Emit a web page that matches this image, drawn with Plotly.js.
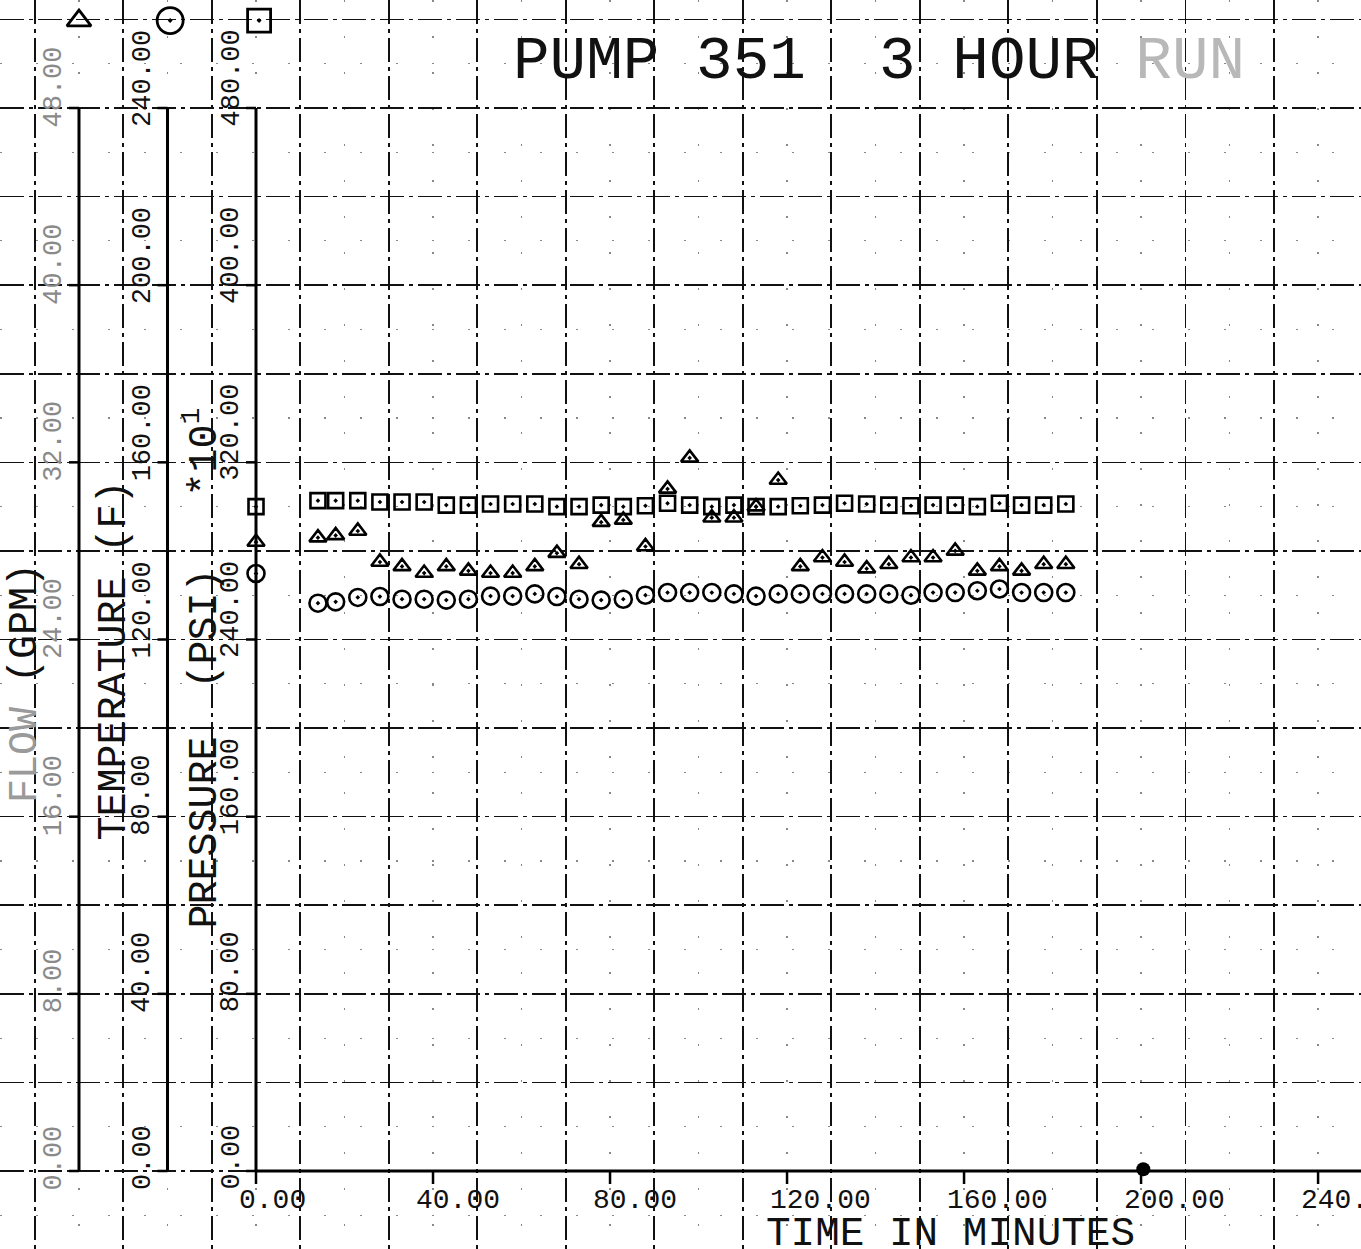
<!DOCTYPE html>
<html>
<head>
<meta charset="utf-8">
<script src="https://cdn.plot.ly/plotly-3.0.1.min.js"></script>
<style>
html,body{margin:0;padding:0;background:#fff;}
#chart{width:1361px;height:1249px;}
</style>
</head>
<body>
<div id="chart"></div>
<script>
// ---- data ----
const timeMin = [0, 14, 18, 23, 28, 33, 38, 43, 48, 53, 58, 63, 68, 73, 78, 83, 88, 93, 98,
  103, 108, 113, 118, 123, 128, 133, 138, 143, 148, 153, 158, 163, 168, 173, 178, 183];
const pressurePsi10 = [300.0, 302.7, 302.7, 302.7, 302.1, 302.1, 302.1, 300.7, 300.7, 301.2, 301.2, 301.2,
  300.0, 300.0, 300.7, 300.0, 300.4, 301.5, 300.7, 300.0, 300.7, 300.0, 300.0, 300.4,
  300.7, 301.5, 301.2, 300.7, 300.4, 300.7, 300.7, 300.0, 301.5, 300.7, 300.7, 301.2];
const temperatureF = [134.9, 128.2, 128.5, 129.5, 129.7, 129.1, 129.1, 128.9, 129.1, 129.8, 129.8, 130.3,
  129.7, 129.1, 128.9, 129.1, 130.0, 130.6, 130.6, 130.6, 130.3, 129.8, 130.3, 130.3,
  130.3, 130.3, 130.3, 130.3, 130.0, 130.6, 130.6, 131.0, 131.4, 130.6, 130.6, 130.6];
const flowGpm = [28.4, 28.6, 28.7, 28.9, 27.5, 27.3, 27.0, 27.3, 27.1, 27.0, 27.0, 27.3,
  27.9, 27.4, 29.3, 29.4, 28.2, 30.8, 32.2, 29.5, 29.5, 30.0, 31.2, 27.3,
  27.7, 27.5, 27.2, 27.4, 27.7, 27.7, 28.0, 27.1, 27.3, 27.1, 27.4, 27.4];
const strayTime = [200.5];
const strayPressure = [0.8];

const timeTicks = [0, 40, 80, 120, 160, 200, 240];
const pressureTicks = [0, 80, 160, 240, 320, 400, 480];
const temperatureTicks = [0, 40, 80, 120, 160, 200, 240];
const flowTicks = [0, 8, 16, 24, 32, 40, 48];

const chartTitle = 'PUMP 351\u00a0\u00a03 HOUR <span style="color:#b8b8b8">RUN</span>';
const xTitle = 'TIME IN MINUTES';
const flowTitle = '<span style="color:#9a9a9a">FLOW</span> (GPM)';
const tempTitle = 'TEMPERATURE (F)';
const pressTitle = 'PRESSURE\u00a0\u00a0(PSI)\u00a0\u00a0\u00a0*10<sup>1</sup>';

// ---- layout geometry ----
const W = 1361, H = 1249;
const X_RANGE = [-57.85, 249.7];
const P_RANGE = [-35.22, 528.77];
const T_RANGE = [P_RANGE[0] / 2, P_RANGE[1] / 2];
const F_RANGE = [P_RANGE[0] / 10, P_RANGE[1] / 10];
const AX_FLOW = -40, AX_TEMP = -20, AX_PRESS = 0;
const KEY_LEVEL = 519.5; // legend keys at top of axes (pressure units)

const FONT = 'Liberation Mono, DejaVu Sans Mono, monospace';
const fmt = v => v.toFixed(2);

const annotations = [];
const shapes = [];

function yAxisDecor(pos, ticks, yref, top, labelColor, title, titleBottomPx) {
  shapes.push({type: 'line', xref: 'x', yref: yref, x0: pos, x1: pos, y0: 0, y1: top,
    line: {color: '#000', width: 3}});
  ticks.forEach(v => {
    shapes.push({type: 'line', xref: 'x', xsizemode: 'pixel', xanchor: pos, x0: -10, x1: 0,
      yref: yref, y0: v, y1: v, line: {color: '#000', width: 2.5}});
    annotations.push({xref: 'x', yref: yref, x: pos, y: v, text: fmt(v), textangle: -90,
      xanchor: 'center', yanchor: 'bottom', xshift: -25, yshift: -21, showarrow: false,
      font: {family: FONT, size: 27, color: labelColor}});
  });
  annotations.push({xref: 'x', yref: 'paper', x: pos, y: 1 - titleBottomPx / H, text: title,
    textangle: -90, xanchor: 'center', yanchor: 'bottom', xshift: -54, showarrow: false,
    font: {family: FONT, size: 40, color: '#111'}});
}
yAxisDecor(AX_FLOW, flowTicks, 'y3', 48, '#8a8a8a', flowTitle, 805);
yAxisDecor(AX_TEMP, temperatureTicks, 'y2', 240, '#111', tempTitle, 843);
yAxisDecor(AX_PRESS, pressureTicks, 'y', 480, '#111', pressTitle, 931);

// x axis line, ticks, labels
shapes.push({type: 'line', xref: 'x', yref: 'y', x0: 0, x1: X_RANGE[1], y0: 0, y1: 0,
  line: {color: '#000', width: 3}});
timeTicks.forEach(v => {
  shapes.push({type: 'line', xref: 'x', x0: v, x1: v, yref: 'y', ysizemode: 'pixel', yanchor: 0,
    y0: -13, y1: 0, line: {color: '#000', width: 2.5}});
  annotations.push({xref: 'x', yref: 'y', x: v, y: 0, text: fmt(v), xanchor: 'left', yanchor: 'middle',
    xshift: -19, yshift: -29, showarrow: false, font: {family: FONT, size: 28, color: '#111'}});
});
annotations.push({xref: 'paper', yref: 'paper', x: 764 / W, y: 1 - 1234 / H, text: xTitle,
  xanchor: 'left', yanchor: 'middle', showarrow: false, font: {family: FONT, size: 41, color: '#111'}});

const gridMain = {showgrid: true, gridcolor: '#111', gridwidth: 1.6, griddash: '24px,5px,4px,5px'};
const gridMinor = {showgrid: true, gridcolor: '#888', gridwidth: 1.2, griddash: '2px,34px', ticks: ''};

const mk = (symbol, size, lw) => ({symbol: symbol, size: size, color: '#000', line: {color: '#000', width: lw}});

const traces = [
  {type: 'scatter', mode: 'markers', name: 'Pressure', x: timeMin, y: pressurePsi10, yaxis: 'y',
    marker: mk('square-open-dot', 15, 2.6), cliponaxis: false, hoverinfo: 'x+y'},
  {type: 'scatter', mode: 'markers', name: 'Temperature', x: timeMin, y: temperatureF, yaxis: 'y2',
    marker: mk('circle-open-dot', 17, 2.6), cliponaxis: false, hoverinfo: 'x+y'},
  {type: 'scatter', mode: 'markers', name: 'Flow', x: timeMin, y: flowGpm, yaxis: 'y3',
    marker: mk('triangle-up-open-dot', 15, 2.6), cliponaxis: false, hoverinfo: 'x+y'},
  // axis keys at top of each vertical axis
  {type: 'scatter', mode: 'markers', x: [AX_FLOW], y: [KEY_LEVEL], yaxis: 'y',
    marker: mk('triangle-up-open', 21, 2.8), cliponaxis: false, hoverinfo: 'skip'},
  {type: 'scatter', mode: 'markers', x: [AX_TEMP + 0.6], y: [KEY_LEVEL], yaxis: 'y',
    marker: mk('circle-open-dot', 26, 2.8), cliponaxis: false, hoverinfo: 'skip'},
  {type: 'scatter', mode: 'markers', x: [AX_PRESS + 0.7], y: [KEY_LEVEL], yaxis: 'y',
    marker: mk('square-open-dot', 23, 2.8), cliponaxis: false, hoverinfo: 'skip'},
  {type: 'scatter', mode: 'markers', x: strayTime, y: strayPressure, yaxis: 'y',
    marker: {symbol: 'circle', size: 14, color: '#000'}, cliponaxis: false, hoverinfo: 'skip'}
];

const layout = {
  width: W, height: H,
  margin: {l: 0, r: 0, t: 0, b: 0, pad: 0},
  paper_bgcolor: '#fff', plot_bgcolor: '#fff',
  showlegend: false,
  title: {text: chartTitle, xref: 'paper', yref: 'paper', x: 513 / W, xanchor: 'left',
    y: 1 - 56.5 / H, yanchor: 'middle', font: {family: FONT, size: 61, color: '#111'}},
  xaxis: Object.assign({range: X_RANGE, domain: [0, 1], tick0: 10, dtick: 20, showticklabels: false,
    ticks: '', zeroline: false, showline: false, fixedrange: true,
    minor: Object.assign({tick0: 0, dtick: 20}, gridMinor)}, gridMain),
  yaxis: Object.assign({range: P_RANGE, domain: [0, 1], tick0: 0, dtick: 40, showticklabels: false,
    ticks: '', zeroline: false, showline: false, fixedrange: true,
    minor: Object.assign({tick0: 20, dtick: 40}, gridMinor)}, gridMain),
  yaxis2: {range: T_RANGE, overlaying: 'y', visible: false, fixedrange: true},
  yaxis3: {range: F_RANGE, overlaying: 'y', visible: false, fixedrange: true},
  shapes: shapes,
  annotations: annotations
};

Plotly.newPlot('chart', traces, layout, {displayModeBar: false, staticPlot: true});
</script>
</body>
</html>
